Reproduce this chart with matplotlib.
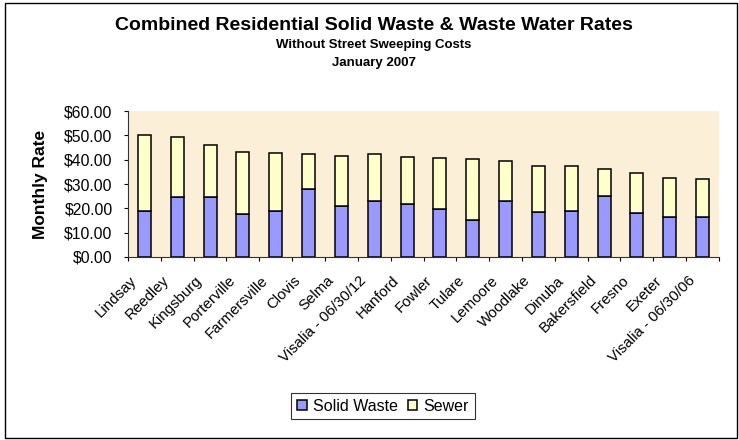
import numpy as np
import matplotlib
matplotlib.use("Agg")
import matplotlib.pyplot as plt
import matplotlib.transforms as mtransforms
from matplotlib.patches import Rectangle
from matplotlib.ticker import FuncFormatter, MultipleLocator

plt.rcParams['font.family'] = ['Liberation Sans', 'DejaVu Sans']

# data
cities = ["Lindsay", "Reedley", "Kingsburg", "Porterville", "Farmersville",
          "Clovis", "Selma", "Visalia - 06/30/12", "Hanford", "Fowler",
          "Tulare", "Lemoore", "Woodlake", "Dinuba", "Bakersfield",
          "Fresno", "Exeter", "Visalia - 06/30/06"]
solid_waste = [19.1, 24.7, 24.7, 17.5, 19.1, 28.1, 20.8, 23.0, 21.9, 19.8,
               15.3, 23.1, 18.6, 19.1, 25.2, 18.1, 16.6, 16.6]
total = [50.1, 49.4, 46.2, 43.3, 42.9, 42.2, 41.7, 42.2, 41.2, 40.6,
         40.1, 39.5, 37.4, 37.4, 36.3, 34.7, 32.4, 31.9]
sewer = [t - s for t, s in zip(total, solid_waste)]

W, H = 739, 440
fig = plt.figure(figsize=(W / 100, H / 100), dpi=100)
ax = fig.add_axes([128 / W, 1 - 257 / H, 591 / W, 146 / H])
ax.set_facecolor("#fcefd8")

x = np.arange(len(cities))
w = 0.40
ax.bar(x, solid_waste, w, color="#9999ff", edgecolor="black", linewidth=1.1,
       label="Solid Waste")
ax.bar(x, sewer, w, bottom=solid_waste, color="#ffffcc", edgecolor="black",
       linewidth=1.1, label="Sewer")

ax.set_xlim(-0.5, len(cities) - 0.5)
ax.set_ylim(0, 60)
ax.yaxis.set_major_locator(MultipleLocator(10))
ax.yaxis.set_major_formatter(FuncFormatter(lambda v, p: "${:.2f}".format(v)))
ax.tick_params(axis="y", labelsize=11.3, length=3, pad=8, direction="out")

# category boundary ticks (Excel style), labels under each bar
ax.set_xticks(np.arange(len(cities) + 1) - 0.5)
ax.set_xticklabels([])
ax.set_xticks(x, minor=True)
ax.set_xticklabels(cities, minor=True, rotation=45, ha="right", va="center",
                   rotation_mode="anchor", fontsize=10.8)
ax.tick_params(axis="x", which="minor", length=0, pad=0)
ax.tick_params(axis="x", which="major", length=3)
shift = mtransforms.ScaledTranslation(-10 / 100, -21 / 100, fig.dpi_scale_trans)
for lab in ax.get_xticklabels(minor=True):
    lab.set_transform(lab.get_transform() + shift)

for s in ["top", "right"]:
    ax.spines[s].set_visible(False)
ax.spines["left"].set_color("#333333")
ax.spines["bottom"].set_color("#333333")

ax.set_ylabel("Monthly Rate", fontsize=12.5, fontweight="bold")
ax.yaxis.set_label_coords(48 / W, 1 - 184 / H, transform=fig.transFigure)

fig.text(374 / W, 1 - 25 / H, "Combined Residential Solid Waste & Waste Water Rates",
         ha="center", va="center", fontsize=14, fontweight="bold")
fig.text(374 / W, 1 - 45 / H, "Without Street Sweeping Costs",
         ha="center", va="center", fontsize=9.5, fontweight="bold")
fig.text(374 / W, 1 - 63 / H, "January 2007",
         ha="center", va="center", fontsize=9.5, fontweight="bold")

leg = fig.legend(loc="center", bbox_to_anchor=(383 / W, 1 - 406 / H), ncol=2,
                 frameon=True, fancybox=False, edgecolor="black", fontsize=11.5,
                 handlelength=0.6, handleheight=0.6, handletextpad=0.4,
                 columnspacing=0.6, borderpad=0.35)
leg.get_frame().set_linewidth(0.8)

fig.patches.append(Rectangle((5 / W, 2 / H), 732 / W, 435 / H, fill=False,
                             edgecolor="black", linewidth=1.0,
                             transform=fig.transFigure, figure=fig))

fig.savefig("out.png", dpi=100)
